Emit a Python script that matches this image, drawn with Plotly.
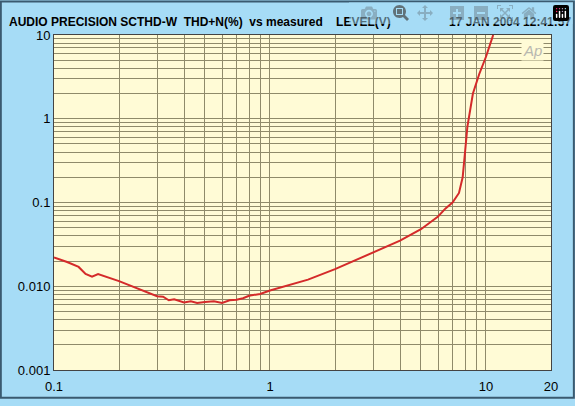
import plotly.graph_objects as go

level_v = [0.1, 0.115, 0.13, 0.14, 0.15, 0.16, 0.2, 0.25, 0.3, 0.32, 0.34, 0.36, 0.4, 0.43, 0.46, 0.5, 0.55, 0.6, 0.65, 0.7, 0.75, 0.8, 0.9, 1.0, 1.5, 2.0, 3.0, 4.0, 5.0, 5.5, 6.0, 6.5, 7.0, 7.5, 7.8, 8.0, 8.2, 8.7, 9.3, 10.0, 10.5, 10.8]
thdn_pct = [0.022, 0.0195, 0.017, 0.014, 0.013, 0.014, 0.0115, 0.0092, 0.0076, 0.0075, 0.0068, 0.007, 0.0064, 0.0066, 0.0063, 0.0065, 0.0066, 0.0063, 0.0068, 0.0069, 0.0072, 0.0077, 0.0081, 0.0089, 0.012, 0.016, 0.025, 0.035, 0.048, 0.058, 0.068, 0.085, 0.1, 0.13, 0.2, 0.4, 0.8, 2.0, 3.4, 5.5, 8.0, 10.0]
x_ticks = [0.1, 1, 10, 20]
x_labels = ["0.1", "1", "10", "20"]
y_ticks = [0.001, 0.01, 0.1, 1, 10]
y_labels = ["0.001", "0.010", "0.1", "1", "10"]

grid = "#8f8a6a"
font = dict(family="Liberation Sans, Arial", size=12, color="black")
fig = go.Figure(go.Scatter(x=level_v, y=thdn_pct, mode="lines",
                           line=dict(color="#d42a2a", width=2), hoverinfo="skip"))
fig.update_layout(
    width=575, height=406, showlegend=False,
    paper_bgcolor="#a6dcf6", plot_bgcolor="#fffbd6",
    margin=dict(l=54, r=24, t=35, b=29),
    font=font,
)
fig.update_xaxes(type="log", range=[-1, 1.30103], tickvals=x_ticks, ticktext=x_labels,
                 showgrid=True, gridcolor=grid, gridwidth=1,
                 minor=dict(showgrid=True, gridcolor=grid, gridwidth=0.6, dtick="D1"),
                 showline=True, linecolor="#444", mirror=True, zeroline=False,
                 tickfont=dict(family="Liberation Sans, Arial", size=13, color="black"),
                 ticks="", ticklabelstandoff=4)
fig.update_yaxes(type="log", range=[-3, 1], tickvals=y_ticks, ticktext=y_labels,
                 showgrid=True, gridcolor=grid, gridwidth=1,
                 minor=dict(showgrid=True, gridcolor=grid, gridwidth=0.6, dtick="D1"),
                 showline=True, linecolor="#444", mirror=True, zeroline=False,
                 tickfont=dict(family="Liberation Sans, Arial", size=13, color="black"),
                 ticks="")
fig.add_annotation(text="<b>AUDIO PRECISION SCTHD-W  THD+N(%)  vs measured    LEVEL(V)</b>",
                   xref="paper", yref="paper", x=-0.095, y=1.0, yshift=22, xanchor="left",
                   showarrow=False, font=dict(family="Liberation Sans, Arial", size=12))
fig.add_annotation(text="<b>17 JAN 2004 12:41:57</b>",
                   xref="paper", yref="paper", x=1.045, y=1.0, yshift=22, xanchor="right",
                   showarrow=False, font=dict(family="Liberation Sans, Arial", size=12))
fig.add_annotation(text="<i>Ap</i>", xref="paper", yref="paper", x=0.985, y=0.985,
                   xanchor="right", yanchor="top", showarrow=False,
                   font=dict(family="Liberation Sans, Arial", size=15, color="#b8b8b0"),
                   bgcolor="#fffbd6")
fig.add_shape(type="rect", xref="paper", yref="paper", x0=-0.107, x1=1.046, y0=-0.083, y1=1.1,
              line=dict(color="#3a5a70", width=2))
fig.write_html("out.html", post_script="document.body.style.margin='0';document.body.style.overflow='hidden';")
